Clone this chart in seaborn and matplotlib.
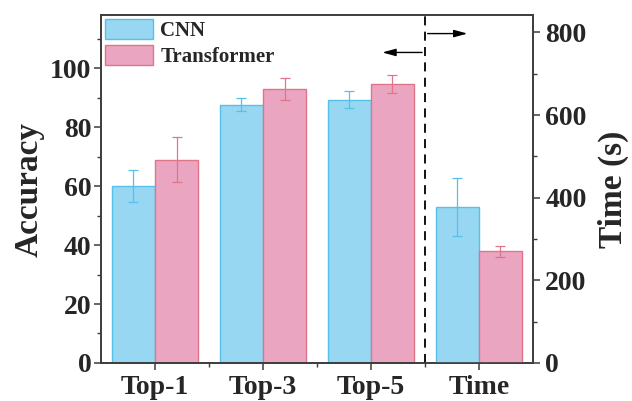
import numpy as np
import pandas as pd
import matplotlib
matplotlib.use("Agg")
import matplotlib.pyplot as plt
import seaborn as sns
from matplotlib.ticker import MultipleLocator, FixedLocator

categories = ["Top-1", "Top-3", "Top-5", "Time"]
models = ["CNN", "Transformer"]

acc_metrics = ["Top-1", "Top-3", "Top-5"]
cnn_acc = [60.0, 87.5, 89.3]
cnn_acc_err = [5.5, 2.2, 3.0]
trans_acc = [69.0, 93.0, 94.7]
trans_acc_err = [7.5, 3.7, 3.0]

cnn_time = [378]
cnn_time_err = [70]
trans_time = [270]
trans_time_err = [14]

fills = {"CNN": "#97D7F1", "Transformer": "#EAA6C1"}
edges = {"CNN": "#55C0EA", "Transformer": "#E17489"}

acc = pd.DataFrame({
    "metric": acc_metrics * 2,
    "model": ["CNN"] * 3 + ["Transformer"] * 3,
    "value": cnn_acc + trans_acc,
    "err": cnn_acc_err + trans_acc_err,
})
tm = pd.DataFrame({
    "metric": ["Time", "Time"],
    "model": models,
    "value": cnn_time + trans_time,
    "err": cnn_time_err + trans_time_err,
})

sns.set_style("ticks")
plt.rcParams["font.family"] = ["Liberation Serif", "DejaVu Serif"]
plt.rcParams["font.weight"] = "bold"

fig = plt.figure(figsize=(6.32, 4.01), dpi=100)
ax = fig.add_axes([0.16, 0.0948, 0.683, 0.8678])
ax2 = ax.twinx()


def draw(axis, df, legend):
    sns.barplot(data=df, x="metric", y="value", hue="model", order=categories,
                hue_order=models, palette=fills, width=0.8, errorbar=None,
                saturation=1, linewidth=1.0, legend=legend, ax=axis)
    for cont, m in zip(axis.containers, models):
        sub = df[df["model"] == m].set_index("metric")
        xs, ys, es = [], [], []
        for p in cont.patches:
            p.set_edgecolor(edges[m])
        shown = [c for c in categories if c in sub.index]
        for p, c in zip([p for p in cont.patches if p.get_height() > 0], shown):
            xs.append(p.get_x() + p.get_width() / 2)
            ys.append(sub.loc[c, "value"])
            es.append(sub.loc[c, "err"])
        axis.errorbar(xs, ys, yerr=es, fmt="none", ecolor=edges[m],
                      elinewidth=0.9, capsize=3.5, capthick=0.9, zorder=5)


draw(ax, acc, True)
draw(ax2, tm, False)

ax.set_xlim(-0.5, 3.5)
ax.set_ylim(0, 118)
ax2.set_ylim(0, 842)

ax.set_xticks(range(len(categories)))
ax.set_xticklabels(categories, fontsize=20, fontweight="bold")
ax.xaxis.set_minor_locator(FixedLocator([0.5, 1.5, 2.5]))
ax.yaxis.set_major_locator(MultipleLocator(20))
ax.yaxis.set_minor_locator(MultipleLocator(10))
ax2.yaxis.set_major_locator(MultipleLocator(200))
ax2.yaxis.set_minor_locator(MultipleLocator(100))

ax.set_xlabel("")
ax2.set_xlabel("")
ax.set_ylabel("Accuracy", fontsize=24, fontweight="bold", labelpad=4)
ax2.set_ylabel("Time (s)", fontsize=24, fontweight="bold", labelpad=8)

for a in (ax, ax2):
    for s in a.spines.values():
        s.set_color("#3c3c3c")
        s.set_linewidth(1.2)
    a.tick_params(which="major", length=5, width=1.1, color="#3c3c3c", labelsize=20, pad=2)
    a.tick_params(which="minor", length=3, width=1.0, color="#3c3c3c")
    for lab in a.get_yticklabels():
        lab.set_fontweight("bold")
ax.tick_params(axis="x", which="major", pad=3.5)
ax.tick_params(top=False, which="both")
ax2.tick_params(axis="y", which="major", pad=4)

ax.axvline(2.5, color="black", lw=1.3, ls=(0, (5, 3.5)), zorder=6)
ax.annotate("", xy=(2.08, 105.3), xytext=(2.5, 105.3),
            arrowprops=dict(arrowstyle="-|>,head_length=0.8,head_width=0.22", color="black", lw=1.0))
ax.annotate("", xy=(2.92, 111.7), xytext=(2.5, 111.7),
            arrowprops=dict(arrowstyle="-|>,head_length=0.8,head_width=0.22", color="black", lw=1.0))

leg = ax.legend(loc="upper left", frameon=False, fontsize=15, handlelength=2.3,
                handleheight=1.1, labelspacing=0.2, handletextpad=0.35,
                borderaxespad=0.1, borderpad=0.1)
for t in leg.get_texts():
    t.set_fontweight("bold")
for h, m in zip(leg.legend_handles, models):
    h.set_edgecolor(edges[m])

fig.savefig("out.png", dpi=100)
